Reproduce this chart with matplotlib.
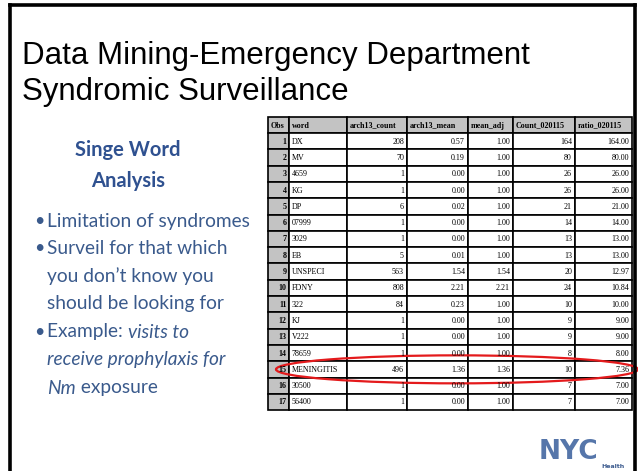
import matplotlib
matplotlib.use("Agg")
import matplotlib.pyplot as plt
from matplotlib.patches import Rectangle, Ellipse

# ---------------- data ----------------
columns = ["Obs", "word", "arch13_count", "arch13_mean", "mean_adj", "Count_020115", "ratio_020115"]
obs = list(range(1, 18))
words = ["DX", "MV", "4659", "KG", "DP", "07999", "3029", "EB", "UNSPECI", "FDNY",
         "322", "KJ", "V222", "78659", "MENINGITIS", "30500", "56400"]
arch13_count = [208, 70, 1, 1, 6, 1, 1, 5, 563, 808, 84, 1, 1, 1, 496, 1, 1]
arch13_mean = [0.57, 0.19, 0.00, 0.00, 0.02, 0.00, 0.00, 0.01, 1.54, 2.21, 0.23, 0.00, 0.00, 0.00, 1.36, 0.00, 0.00]
mean_adj = [1.00, 1.00, 1.00, 1.00, 1.00, 1.00, 1.00, 1.00, 1.54, 2.21, 1.00, 1.00, 1.00, 1.00, 1.36, 1.00, 1.00]
count_020115 = [164, 80, 26, 26, 21, 14, 13, 13, 20, 24, 10, 9, 9, 8, 10, 7, 7]
ratio_020115 = [164.00, 80.00, 26.00, 26.00, 21.00, 14.00, 13.00, 13.00, 12.97, 10.84, 10.00, 9.00, 9.00, 8.00, 7.36, 7.00, 7.00]
highlight_word = "MENINGITIS"

title_lines = ["Data Mining-Emergency Department", "Syndromic Surveillance"]
side_heading = ["Singe Word", "Analysis"]

W, H = 638, 471
fig = plt.figure(figsize=(W / 100, H / 100), dpi=100)
ax = fig.add_axes([0, 0, 1, 1])
ax.set_xlim(0, W)
ax.set_ylim(H, 0)
ax.axis("off")
renderer = fig.canvas.get_renderer()

# slide border
ax.plot([10, 10], [H, 5], color="black", lw=2.6, solid_capstyle="projecting")
ax.plot([10, 635], [5, 5], color="black", lw=2.6, solid_capstyle="projecting")
ax.plot([635, 635], [5, H], color="black", lw=2.6, solid_capstyle="projecting")

# title
title_font = dict(family="Liberation Sans", fontsize=22.5, color="black")
ax.text(22, 64, title_lines[0], va="baseline", ha="left", **title_font)
ax.text(22, 100, title_lines[1], va="baseline", ha="left", **title_font)

# left side text
head_col = "#2f5190"
body_col = "#3a5a8c"
ax.text(128, 150, side_heading[0], ha="center", va="center", family="Lato",
        fontweight="bold", fontsize=14.5, color=head_col)
ax.text(128, 181, side_heading[1], ha="center", va="center", family="Lato",
        fontweight="bold", fontsize=14.5, color=head_col)

bfs = 13.8
bx, tx = 34, 47
def line(y, parts, bullet=False):
    if bullet:
        ax.text(bx, y, "•", ha="left", va="center", family="Lato", fontsize=bfs - 1, color=body_col)
    x = tx
    for txt, style in parts:
        t = ax.text(x, y, txt, ha="left", va="center", family="Lato", fontsize=bfs,
                    color=body_col, style=style)
        bb = t.get_window_extent(renderer=renderer)
        x += bb.width
line(221, [("Limitation of syndromes", "normal")], True)
line(248, [("Surveil for that which", "normal")], True)
line(276, [("you don\u2019t know you", "normal")])
line(304, [("should be looking for", "normal")])
line(332, [("Example: ", "normal"), ("visits to", "italic")], True)
line(360, [("receive prophylaxis for", "italic")])
line(388, [("Nm", "italic"), (" exposure", "normal")])

# table
col_w = [21, 58, 60, 61, 45, 62, 57]
x0 = 268
xs = [x0]
for w in col_w:
    xs.append(xs[-1] + w)
y_top = 117
hdr_h = 16
row_h = 16.3
gray = "#c3c3c3"
tfs = 5.8
serif = "Liberation Serif"

# header
for j, name in enumerate(columns):
    ax.add_patch(Rectangle((xs[j], y_top), col_w[j], hdr_h, facecolor=gray,
                           edgecolor="black", lw=1.2))
    ax.text(xs[j] + 2.5, y_top + hdr_h / 2 + 0.5, name, ha="left", va="center",
            family=serif, fontweight="bold", fontsize=tfs, color="black")

values = [arch13_count, arch13_mean, mean_adj, count_020115, ratio_020115]
fmts = ["{:d}", "{:.2f}", "{:.2f}", "{:d}", "{:.2f}"]
for i in range(len(obs)):
    yy = y_top + hdr_h + i * row_h
    cy = yy + row_h / 2 + 0.5
    ax.add_patch(Rectangle((xs[0], yy), col_w[0], row_h, facecolor=gray, edgecolor="black", lw=1.2))
    ax.text(xs[1] - 2.5, cy, str(obs[i]), ha="right", va="center", family=serif,
            fontweight="bold", fontsize=tfs)
    ax.add_patch(Rectangle((xs[1], yy), col_w[1], row_h, facecolor="white", edgecolor="black", lw=1.2))
    ax.text(xs[1] + 2.5, cy, words[i], ha="left", va="center", family=serif, fontsize=tfs)
    for k, (vals, f) in enumerate(zip(values, fmts)):
        j = k + 2
        ax.add_patch(Rectangle((xs[j], yy), col_w[j], row_h, facecolor="white", edgecolor="black", lw=1.2))
        ax.text(xs[j + 1] - 3, cy, f.format(vals[i]), ha="right", va="center",
                family=serif, fontsize=tfs)

# red ellipse around highlighted row
hi = words.index(highlight_word)
ecy = y_top + hdr_h + hi * row_h + row_h / 2
ax.add_patch(Ellipse((457, ecy), 362, 28, facecolor="none", edgecolor="#e41a1c", lw=1.6))

# NYC logo
ax.text(568, 452, "NYC", ha="center", va="center", family="DejaVu Sans",
        fontweight="heavy", fontsize=19, color="#5676aa")
ax.text(613, 467, "Health", ha="center", va="center", family="DejaVu Sans",
        fontweight="bold", fontsize=4.5, color="#3d5c8f")

fig.savefig("out.png", dpi=100)
